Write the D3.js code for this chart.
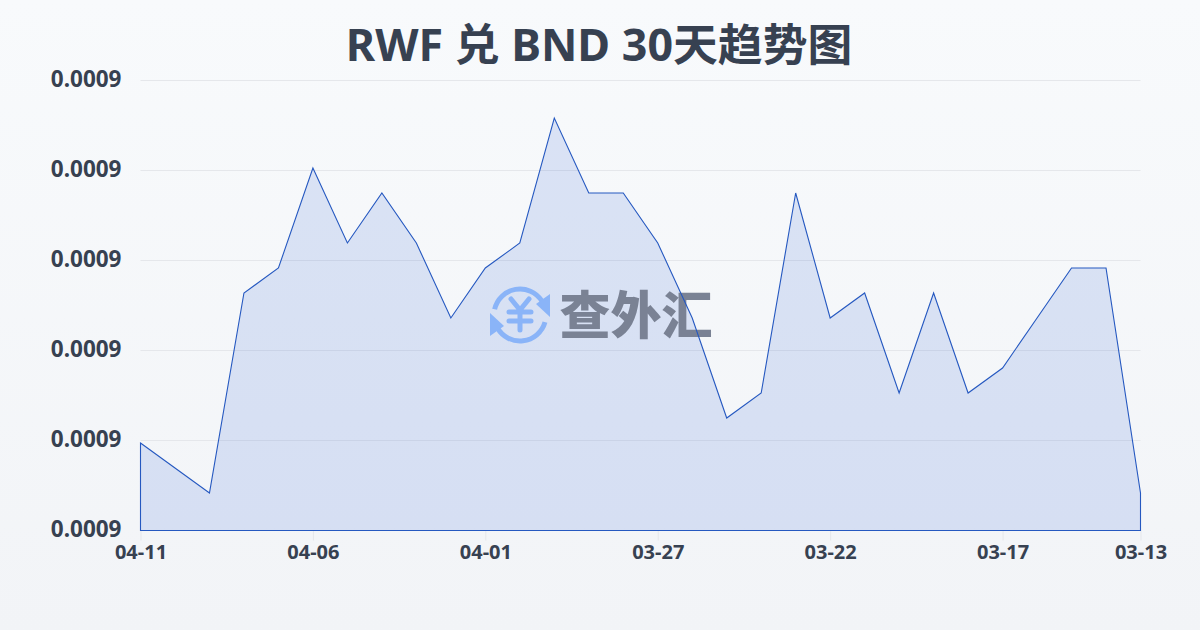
<!DOCTYPE html>
<html><head><meta charset="utf-8">
<script src="https://cdn.jsdelivr.net/npm/d3@7"></script>
<style>html,body{margin:0;padding:0;width:1200px;height:630px;overflow:hidden}</style>
</head><body><div id="c"></div>
<script>
const titleText = "RWF 兑 BND 30天趋势图";
const dates = ["04-11","04-10","04-09","04-08","04-07","04-06","04-05","04-04","04-03","04-02","04-01","03-31","03-30","03-29","03-28","03-27","03-26","03-25","03-24","03-23","03-22","03-21","03-20","03-19","03-18","03-17","03-16","03-15","03-14","03-13"];
const rates = [0.0009035,0.0009025,0.0009015,0.0009095,0.0009105,0.0009145,0.0009115,0.0009135,0.0009115,0.0009085,0.0009105,0.0009115,0.0009165,0.0009135,0.0009135,0.0009115,0.0009085,0.0009045,0.0009055,0.0009135,0.0009085,0.0009095,0.0009055,0.0009095,0.0009055,0.0009065,0.0009085,0.0009105,0.0009105,0.0009015];
const xTickLabels = ["04-11","04-06","04-01","03-27","03-22","03-17","03-13"];
const yDomain = [0.0009,0.000918];
const yTickCount = 6;

const W=1200,H=630,m={l:140.5,r:1140.5,t:80.5,b:530.5};
const font='"Noto Sans","Noto Sans CJK SC",sans-serif';
const svg=d3.select("#c").append("svg").attr("width",W).attr("height",H).style("display","block");
const defs=svg.append("defs");
const bg=defs.append("linearGradient").attr("id","bg").attr("x1",0).attr("y1",0).attr("x2",0).attr("y2",1);
bg.append("stop").attr("offset",0).attr("stop-color","#f8fafc");
bg.append("stop").attr("offset",1).attr("stop-color","#f2f4f7");
svg.append("rect").attr("width",W).attr("height",H).attr("fill","url(#bg)");

const x=d3.scalePoint().domain(dates).range([m.l,m.r]);
const y=d3.scaleLinear().domain(yDomain).range([m.b,m.t]);
const yTicks=d3.range(yTickCount).map(i=>yDomain[0]+i*(yDomain[1]-yDomain[0])/(yTickCount-1));

svg.append("g").selectAll("line").data(yTicks).join("line")
 .attr("x1",m.l).attr("x2",m.r).attr("y1",d=>y(d)).attr("y2",d=>y(d))
 .attr("stroke","#e5e7eb").attr("stroke-width",1);

const gy=svg.append("g").attr("transform",`translate(${m.l},-1.5)`)
 .call(d3.axisLeft(y).tickValues(yTicks).tickFormat(d=>d.toFixed(4)).tickSize(0).tickPadding(19));
gy.select(".domain").remove();
gy.selectAll("text").attr("font-family",font).attr("font-size",22.5).attr("font-weight",700).attr("fill","#374151");

const gx=svg.append("g").attr("transform",`translate(0,${m.b})`)
 .call(d3.axisBottom(x).tickValues(xTickLabels).tickSize(10).tickPadding(4));
gx.select(".domain").remove();
gx.selectAll("line").attr("stroke","#e5e7eb");
gx.selectAll("text").attr("font-family",font).attr("font-size",20).attr("font-weight",700).attr("fill","#374151");

svg.append("text").attr("x",599).attr("y",61).attr("text-anchor","middle")
 .attr("font-family",font).attr("font-size",44.8).attr("font-weight",700).attr("fill","#374151").text(titleText);

const area=d3.area().x(d=>x(d.date)).y0(m.b).y1(d=>y(d.value));
const pts=dates.map((date,i)=>({date,value:rates[i]}));
svg.append("path").datum(pts).attr("d",area).attr("fill","#2a5fd6").attr("fill-opacity",0.14);

const wm=svg.append("g");
const blue="#8ab4f8";
const cx=520,cy=315,r=26;
const arc=d3.arc().innerRadius(r-2.5).outerRadius(r+2.5);
wm.append("path").attr("transform",`translate(${cx},${cy})`).attr("fill",blue).attr("d",arc({startAngle:-1.35,endAngle:1.0}));
wm.append("path").attr("transform",`translate(${cx},${cy})`).attr("fill",blue).attr("d",arc({startAngle:1.85,endAngle:4.2}));
wm.append("path").attr("fill",blue).attr("d",`M${cx+16} ${cy-11}L${cx+30} ${cy-21}L${cx+30} ${cy+2}Z`);
wm.append("path").attr("fill",blue).attr("d",`M${cx-16} ${cy+11}L${cx-30} ${cy+21}L${cx-30} ${cy-2}Z`);
wm.append("path").attr("fill","none").attr("stroke",blue).attr("stroke-width",5).attr("stroke-linecap","round").attr("stroke-linejoin","round")
  .attr("d",`M${cx-9} ${cy-16}L${cx} ${cy-5}L${cx+9} ${cy-16}M${cx} ${cy-5}V${cy+15}M${cx-11} ${cy-3}H${cx+11}M${cx-11} ${cy+6}H${cx+11}`);
wm.append("text").attr("x",636).attr("y",334).attr("text-anchor","middle")
 .attr("font-family",font).attr("font-size",51).attr("font-weight",900).attr("fill","#7a8294").text("查外汇");

svg.append("path").datum(pts).attr("d",area).attr("fill","none")
 .attr("stroke","#2558c0").attr("stroke-width",1.1).attr("stroke-linejoin","miter");
</script></body></html>
